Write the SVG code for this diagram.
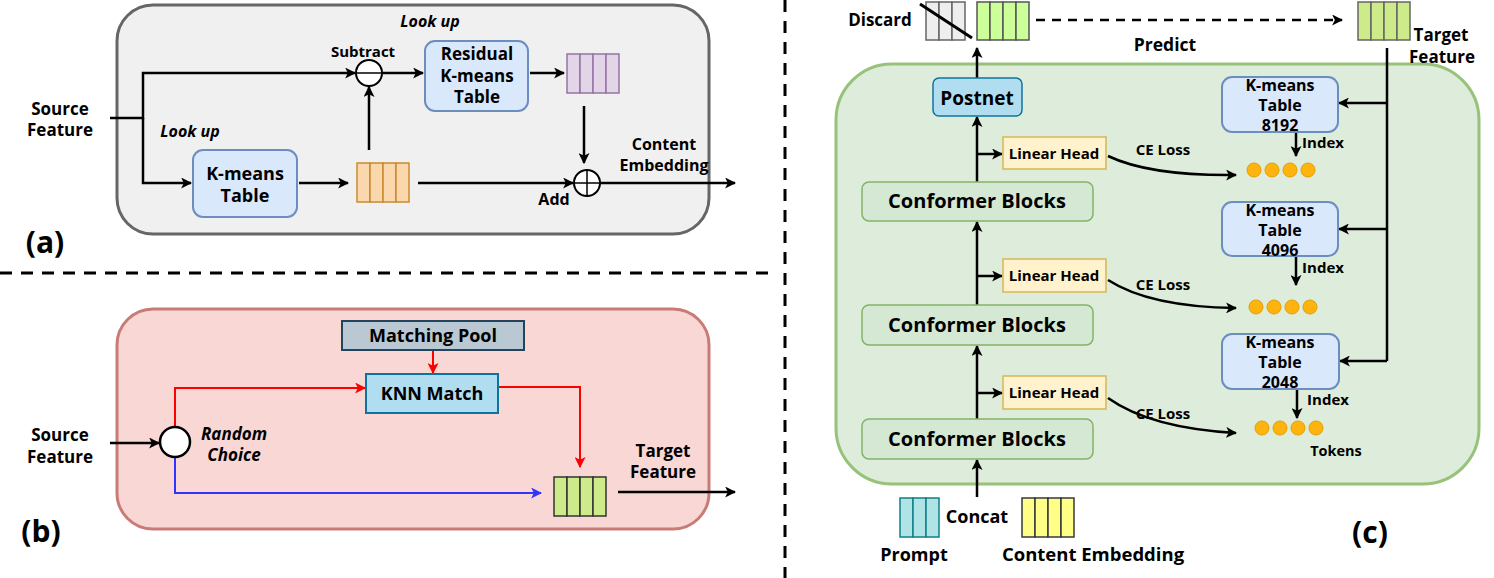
<svg xmlns="http://www.w3.org/2000/svg" width="1494" height="578" viewBox="0 0 1494 578">
<defs>
<style>
text{font-family:"Open Sans","Noto Sans","Liberation Sans",sans-serif;font-weight:bold;fill:#000;text-anchor:middle}
.t17{font-size:17px}.t15{font-size:15px}.t14{font-size:14.5px}.t16{font-size:16px}.t18{font-size:18px}
.it{font-style:italic}
.lbl{font-size:30px}
.ln{fill:none;stroke:#000;stroke-width:2.5}
.red{fill:none;stroke:#ff0000;stroke-width:2}
.blue{fill:none;stroke:#3333ff;stroke-width:2}
.or{fill:#fad7ac;stroke:#c98a2e;stroke-width:1.5}
.pu{fill:#e1d5e7;stroke:#9673a6;stroke-width:1.5}
.gr{fill:#cdeb8b;stroke:#333;stroke-width:1.5}
.gr2{fill:#cdeb8b;stroke:#666;stroke-width:1.5}
.lg{fill:#ccff99;stroke:#555;stroke-width:1.5}
.gy{fill:#eeeeee;stroke:#666;stroke-width:1.5}
.cy{fill:#b0e3e6;stroke:#0e8088;stroke-width:1.5}
.ye{fill:#ffff88;stroke:#36393d;stroke-width:1.5}
.km{fill:#dae8fc;stroke:#6c8ebf;stroke-width:2}
.cf{fill:#d5e8d4;stroke:#82b366;stroke-width:1.5}
.lh{fill:#fff2cc;stroke:#d6b656;stroke-width:1.5}
.dot{fill:#ffb30f;stroke:#e0a000;stroke-width:1}
.dash{fill:none;stroke:#000;stroke-width:3;stroke-dasharray:12 9}
</style>
<marker id="ah" viewBox="0 0 10 10" refX="9" refY="5" markerWidth="11" markerHeight="11" markerUnits="userSpaceOnUse" orient="auto"><path d="M0,0 L10,5 L0,10 L2.5,5 z" fill="#000"/></marker>
<marker id="ahr" viewBox="0 0 10 10" refX="9" refY="5" markerWidth="11" markerHeight="11" markerUnits="userSpaceOnUse" orient="auto"><path d="M0,0 L10,5 L0,10 L2.5,5 z" fill="#ff0000"/></marker>
<marker id="ahb" viewBox="0 0 10 10" refX="9" refY="5" markerWidth="11" markerHeight="11" markerUnits="userSpaceOnUse" orient="auto"><path d="M0,0 L10,5 L0,10 L2.5,5 z" fill="#3333ff"/></marker>
</defs>
<rect width="1494" height="578" fill="#fff"/>

<!-- separators -->
<g id="separators">
<line class="dash" x1="0" y1="273" x2="776" y2="273"/>
<line class="dash" x1="785" y1="0" x2="785" y2="578"/>
</g>

<!-- Panel containers -->
<g id="panel-a-bg"><rect x="117" y="5" width="592" height="229" rx="36" fill="#f0f0f0" stroke="#666" stroke-width="3"/></g>
<g id="panel-b-bg"><rect x="117" y="309" width="592" height="220" rx="36" fill="#f8d7d5" stroke="#c97b78" stroke-width="3"/></g>
<g id="panel-c-bg"><rect x="836" y="64" width="643" height="420" rx="56" fill="#deecdb" stroke="#97c27a" stroke-width="3"/></g>

<!-- connectors -->
<g id="connectors">
<!-- panel a -->
<path class="ln" d="M110,118 H143 V73 H355" marker-end="url(#ah)"/>
<path class="ln" d="M143,118 V183 H191" marker-end="url(#ah)"/>
<path class="ln" d="M299,183 H348" marker-end="url(#ah)"/>
<path class="ln" d="M369,150 V87" marker-end="url(#ah)"/>
<path class="ln" d="M382,73 H423" marker-end="url(#ah)"/>
<path class="ln" d="M530,73 H564" marker-end="url(#ah)"/>
<path class="ln" d="M584,106 V163" marker-end="url(#ah)"/>
<path class="ln" d="M418,183 H573" marker-end="url(#ah)"/>
<path class="ln" d="M600,183 H735" marker-end="url(#ah)"/>
<!-- panel b -->
<path class="ln" d="M110,443 H159" marker-end="url(#ah)"/>
<path class="red" d="M433,351 V373" marker-end="url(#ahr)"/>
<path class="red" d="M175,427 V388 H365" marker-end="url(#ahr)"/>
<path class="red" d="M499,387 H580 V467" marker-end="url(#ahr)"/>
<path class="blue" d="M175,457 V493 H541" marker-end="url(#ahb)"/>
<path class="ln" d="M618,492 H735" marker-end="url(#ah)"/>
<!-- panel c -->
<path d="M1036,20 H1342" fill="none" stroke="#000" stroke-width="2.5" stroke-dasharray="9 7" marker-end="url(#ah)"/>
<path class="ln" d="M977,78 V48" marker-end="url(#ah)"/>
<path class="ln" d="M977,182 V117" marker-end="url(#ah)"/>
<path class="ln" d="M977,154 H1002" marker-end="url(#ah)"/>
<path class="ln" d="M977,305 V222" marker-end="url(#ah)"/>
<path class="ln" d="M977,276 H1002" marker-end="url(#ah)"/>
<path class="ln" d="M977,419 V346" marker-end="url(#ah)"/>
<path class="ln" d="M977,393 H1002" marker-end="url(#ah)"/>
<path class="ln" d="M977,497 V460" marker-end="url(#ah)"/>
<path class="ln" d="M1108,156 Q1150,176 1236,175" marker-end="url(#ah)"/>
<path class="ln" d="M1108,280 Q1150,307 1236,308" marker-end="url(#ah)"/>
<path class="ln" d="M1108,398 Q1150,428 1236,433" marker-end="url(#ah)"/>
<path class="ln" d="M1387,48 V361"/>
<path class="ln" d="M1387,103 H1339" marker-end="url(#ah)"/>
<path class="ln" d="M1387,229 H1339" marker-end="url(#ah)"/>
<path class="ln" d="M1387,361 H1340" marker-end="url(#ah)"/>
<path class="ln" d="M1296,130 V156" marker-end="url(#ah)"/>
<path class="ln" d="M1296,255 V285" marker-end="url(#ah)"/>
<path class="ln" d="M1297,387 V418" marker-end="url(#ah)"/>
</g>

<!-- Panel a nodes -->
<g id="a-source"><text class="t17" x="60" y="115">Source</text><text class="t17" x="60" y="136">Feature</text></g>
<g id="a-lookup-labels"><text class="t16 it" x="430" y="27">Look up</text><text class="t16 it" x="190" y="137">Look up</text></g>
<g id="a-kmeans"><rect class="km" x="193" y="150" width="104" height="67" rx="10"/><text class="t18" x="245" y="180">K-means</text><text class="t18" x="245" y="202">Table</text></g>
<g id="a-orange"><rect class="or" x="357" y="163" width="13" height="39"/><rect class="or" x="370" y="163" width="13" height="39"/><rect class="or" x="383" y="163" width="13" height="39"/><rect class="or" x="396" y="163" width="13" height="39"/></g>
<g id="a-subtract"><circle cx="369" cy="73" r="13" fill="#fff" stroke="#000" stroke-width="2"/><line x1="356" y1="73" x2="382" y2="73" stroke="#000" stroke-width="1.5"/><text class="t15" x="363" y="57">Subtract</text></g>
<g id="a-residual"><rect class="km" x="425" y="41" width="103" height="70" rx="10"/><text class="t17" x="477" y="60">Residual</text><text class="t17" x="477" y="82">K-means</text><text class="t17" x="477" y="103">Table</text></g>
<g id="a-purple"><rect class="pu" x="567" y="54" width="13" height="39"/><rect class="pu" x="580" y="54" width="13" height="39"/><rect class="pu" x="593" y="54" width="13" height="39"/><rect class="pu" x="606" y="54" width="13" height="39"/></g>
<g id="a-add"><circle cx="587" cy="183" r="13" fill="#fff" stroke="#000" stroke-width="2"/><line x1="574" y1="183" x2="600" y2="183" stroke="#000" stroke-width="1.5"/><line x1="587" y1="170" x2="587" y2="196" stroke="#000" stroke-width="1.5"/><text class="t16" x="554" y="205">Add</text></g>
<g id="a-content"><text class="t16" x="664" y="150">Content</text><text class="t16" x="664" y="171">Embedding</text></g>
<g id="a-label"><text class="lbl" x="45" y="253">(a)</text></g>

<!-- Panel b nodes -->
<g id="b-source"><text class="t17" x="60" y="441">Source</text><text class="t17" x="60" y="463">Feature</text></g>
<g id="b-random"><circle cx="175" cy="442" r="15" fill="#fff" stroke="#000" stroke-width="2.5"/><text class="t17 it" x="234" y="440">Random</text><text class="t17 it" x="234" y="461">Choice</text></g>
<g id="b-pool"><rect x="342" y="321" width="182" height="29" fill="#bac8d3" stroke="#23445d" stroke-width="2"/><text class="t18" x="433" y="342">Matching Pool</text></g>
<g id="b-knn"><rect x="366" y="374" width="132" height="39" fill="#b1ddf0" stroke="#10739e" stroke-width="2"/><text class="t18" x="432" y="400">KNN Match</text></g>
<g id="b-green"><rect class="gr" x="554" y="477" width="13" height="39"/><rect class="gr" x="567" y="477" width="13" height="39"/><rect class="gr" x="580" y="477" width="13" height="39"/><rect class="gr" x="593" y="477" width="13" height="39"/></g>
<g id="b-target"><text class="t17" x="663" y="457">Target</text><text class="t17" x="663" y="478">Feature</text></g>
<g id="b-label"><text class="lbl" x="41" y="542">(b)</text></g>

<!-- Panel c nodes -->
<g id="c-discard"><text class="t17" x="880" y="26">Discard</text>
<rect class="gy" x="926" y="2" width="13" height="38"/><rect class="gy" x="939" y="2" width="13" height="38"/><rect class="gy" x="952" y="2" width="13" height="38"/>
<line x1="920" y1="4" x2="972" y2="38" stroke="#000" stroke-width="3"/></g>
<g id="c-output"><rect class="lg" x="977" y="2" width="13" height="38"/><rect class="lg" x="990" y="2" width="13" height="38"/><rect class="lg" x="1003" y="2" width="13" height="38"/><rect class="lg" x="1016" y="2" width="13" height="38"/></g>
<g id="c-predict"><text x="1165" y="51" style="font-size:17.5px">Predict</text></g>
<g id="c-target"><rect class="gr2" x="1358" y="2" width="13" height="38"/><rect class="gr2" x="1371" y="2" width="13" height="38"/><rect class="gr2" x="1384" y="2" width="13" height="38"/><rect class="gr2" x="1397" y="2" width="13" height="38"/>
<text class="t17" x="1441" y="41">Target</text><text class="t17" x="1442" y="63">Feature</text></g>
<g id="c-postnet"><rect x="933" y="78" width="89" height="38" rx="6" fill="#b1ddf0" stroke="#10739e" stroke-width="1.5"/><text x="977" y="105" style="font-size:19px">Postnet</text></g>
<g id="c-conf1"><rect class="cf" x="862" y="182" width="231" height="39" rx="7"/><text x="977" y="208" style="font-size:20px">Conformer Blocks</text></g>
<g id="c-conf2"><rect class="cf" x="862" y="305" width="231" height="40" rx="7"/><text x="977" y="332" style="font-size:20px">Conformer Blocks</text></g>
<g id="c-conf3"><rect class="cf" x="862" y="419" width="231" height="40" rx="7"/><text x="977" y="446" style="font-size:20px">Conformer Blocks</text></g>
<g id="c-lh1"><rect class="lh" x="1003" y="137" width="103" height="32"/><text class="t15" x="1054" y="159">Linear Head</text></g>
<g id="c-lh2"><rect class="lh" x="1003" y="259" width="103" height="33"/><text class="t15" x="1054" y="281">Linear Head</text></g>
<g id="c-lh3"><rect class="lh" x="1003" y="376" width="103" height="33"/><text class="t15" x="1054" y="398">Linear Head</text></g>
<g id="c-ce"><text class="t15" x="1163" y="155">CE Loss</text><text class="t15" x="1163" y="290">CE Loss</text><text class="t15" x="1163" y="419">CE Loss</text></g>
<g id="c-km1"><rect class="km" x="1222" y="77" width="116" height="55" rx="10" stroke-width="1.5"/><text class="t16" x="1280" y="91">K-means</text><text class="t16" x="1280" y="111">Table</text><text class="t16" x="1280" y="131">8192</text></g>
<g id="c-km2"><rect class="km" x="1222" y="202" width="116" height="54" rx="10" stroke-width="1.5"/><text class="t16" x="1280" y="216">K-means</text><text class="t16" x="1280" y="236">Table</text><text class="t16" x="1280" y="256">4096</text></g>
<g id="c-km3"><rect class="km" x="1222" y="334" width="117" height="55" rx="10" stroke-width="1.5"/><text class="t16" x="1280" y="348">K-means</text><text class="t16" x="1280" y="368">Table</text><text class="t16" x="1280" y="388">2048</text></g>
<g id="c-index"><text class="t15" x="1323" y="148">Index</text><text class="t15" x="1323" y="273">Index</text><text class="t15" x="1328" y="405">Index</text></g>
<g id="c-tok1"><circle class="dot" cx="1254" cy="170" r="7"/><circle class="dot" cx="1272" cy="170" r="7"/><circle class="dot" cx="1290" cy="170" r="7"/><circle class="dot" cx="1308" cy="170" r="7"/></g>
<g id="c-tok2"><circle class="dot" cx="1256" cy="307" r="7"/><circle class="dot" cx="1274" cy="307" r="7"/><circle class="dot" cx="1292" cy="307" r="7"/><circle class="dot" cx="1310" cy="307" r="7"/></g>
<g id="c-tok3"><circle class="dot" cx="1262" cy="428" r="7"/><circle class="dot" cx="1280" cy="428" r="7"/><circle class="dot" cx="1298" cy="428" r="7"/><circle class="dot" cx="1316" cy="428" r="7"/><text class="t14" x="1336" y="456">Tokens</text></g>
<g id="c-prompt"><rect class="cy" x="900" y="498" width="13" height="39"/><rect class="cy" x="913" y="498" width="13" height="39"/><rect class="cy" x="926" y="498" width="13" height="39"/><text class="t18" x="914" y="561">Prompt</text></g>
<g id="c-concat"><text class="t18" x="977" y="523">Concat</text></g>
<g id="c-content"><rect class="ye" x="1022" y="498" width="13" height="39"/><rect class="ye" x="1035" y="498" width="13" height="39"/><rect class="ye" x="1048" y="498" width="13" height="39"/><rect class="ye" x="1061" y="498" width="13" height="39"/><text x="1093" y="561" style="font-size:18.5px">Content Embedding</text></g>
<g id="c-label"><text class="lbl" x="1370" y="543">(c)</text></g>
</svg>
